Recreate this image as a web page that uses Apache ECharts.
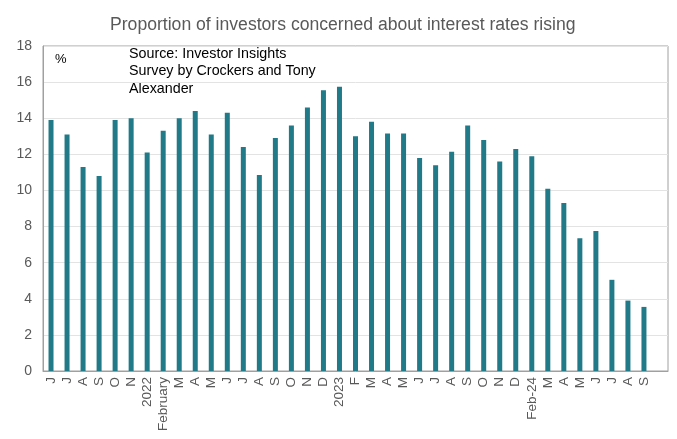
<!DOCTYPE html>
<html>
<head>
<meta charset="utf-8">
<script src="https://cdn.jsdelivr.net/npm/echarts@6/dist/echarts.min.js"></script>
<style>
  html, body { margin: 0; padding: 0; background: #fff; }
  #chart { width: 677px; height: 439px; }
</style>
</head>
<body>
<div id="chart"></div>
<script>
// month labels as shown on the axis
const categories = ['J', 'J', 'A', 'S', 'O', 'N', '2022', 'February', 'M', 'A', 'M', 'J', 'J', 'A',
  'S', 'O', 'N', 'D', '2023', 'F', 'M', 'A', 'M', 'J', 'J', 'A', 'S', 'O', 'N', 'D',
  'Feb-24', 'M', 'A', 'M', 'J', 'J', 'A', 'S']

// % of investors concerned about interest rates rising
const concerned = [13.9, 13.1, 11.3, 10.8, 13.9, 14.0, 12.1, 13.3, 14.0, 14.4, 13.1, 14.3, 12.4, 10.85,
  12.9, 13.6, 14.6, 15.55, 15.75, 13.0, 13.8, 13.15, 13.15, 11.8, 11.4, 12.15, 13.6, 12.8, 11.6, 12.3,
  11.9, 10.1, 9.3, 7.35, 7.75, 5.05, 3.9, 3.55]

const yTicks = { min: 0, max: 18, interval: 2 }

const font = 'Liberation Sans, Arial, sans-serif'
const chart = echarts.init(document.getElementById('chart'))

chart.setOption({
    animation: false,
    textStyle: { fontFamily: font },
    title: {
        text: 'Proportion of investors concerned about interest rates rising',
        left: 105,
        top: 11,
        textStyle: { fontSize: 17.6, fontWeight: 'normal', color: '#595959' }
    },
    grid: {
        left: 43,
        right: 9,
        top: 46,
        bottom: 68,
        show: true,
        borderColor: '#a0a0a0',
        borderWidth: 1
    },
    graphic: [
        {
            type: 'text', left: 55, top: 53,
            style: { text: '%', fontSize: 13, fill: '#000', fontFamily: font }
        },
        {
            type: 'text', left: 129, top: 45,
            style: {
                text: 'Source: Investor Insights\nSurvey by Crockers and Tony\nAlexander',
                fontSize: 14.3,
                lineHeight: 17.5,
                fill: '#000',
                fontFamily: font
            }
        }
    ],
    xAxis: {
        type: 'category',
        // trailing empty slot as in the original
        data: categories.concat(['']),
        axisLine: { lineStyle: { color: '#a0a0a0' } },
        axisTick: { show: false },
        axisLabel: {
            interval: 0,
            rotate: 90,
            fontSize: 13.5,
            color: '#595959',
            margin: 6
        }
    },
    yAxis: {
        type: 'value',
        min: yTicks.min,
        max: yTicks.max,
        interval: yTicks.interval,
        axisLine: { show: true, lineStyle: { color: '#a0a0a0' } },
        axisTick: { show: false },
        axisLabel: { fontSize: 14, color: '#595959', margin: 11 },
        splitLine: { lineStyle: { color: '#e3e3e3' } }
    },
    series: [{
        name: 'Concerned',
        type: 'bar',
        data: concerned,
        barWidth: 5,
        itemStyle: { color: '#217a88' }
    }]
})
</script>
</body>
</html>
